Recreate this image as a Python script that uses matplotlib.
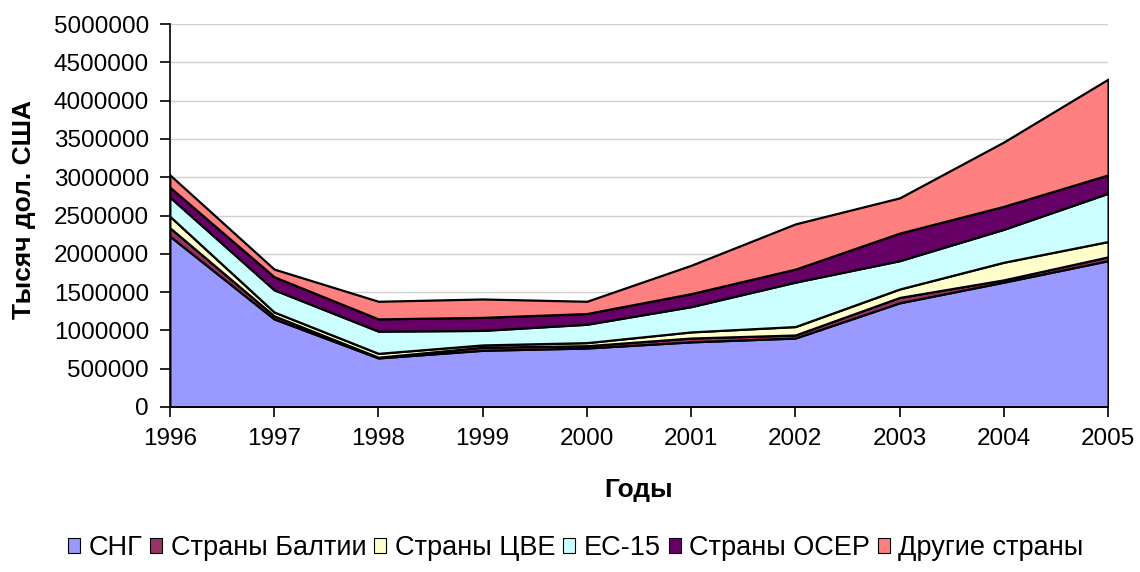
import matplotlib

matplotlib.use("Agg")
import matplotlib.pyplot as plt
from matplotlib.patches import Patch
from matplotlib.ticker import FuncFormatter

plt.rcParams["font.family"] = ["Liberation Sans", "DejaVu Sans"]

YEARS = [1996, 1997, 1998, 1999, 2000, 2001, 2002, 2003, 2004, 2005]
SERIES = ["СНГ", "Страны Балтии", "Страны ЦВЕ", "ЕС-15", "Страны ОСЕР", "Другие страны"]
CIS = [2230000, 1150000, 640000, 740000, 770000, 850000, 900000, 1360000, 1630000, 1910000]
BALTIC = [110000, 40000, 10000, 40000, 30000, 50000, 40000, 70000, 30000, 50000]
CEE = [150000, 50000, 50000, 30000, 40000, 80000, 110000, 110000, 230000, 200000]
EU15 = [250000, 290000, 290000, 190000, 240000, 330000, 580000, 370000, 430000, 630000]
OCEP = [130000, 170000, 160000, 170000, 140000, 170000, 170000, 360000, 300000, 240000]
OTHER = [160000, 100000, 230000, 240000, 160000, 370000, 590000, 460000, 840000, 1250000]

COLORS = ["#9999FF", "#993366", "#FFFFCC", "#CCFFFF", "#660066", "#FF8080"]
FS = 17.5
FS_LABEL = 19
FS_LEGEND = 19.5


def main() -> None:
    fig = plt.figure(figsize=(11.4, 5.72), dpi=100)
    ax = fig.add_axes([0.149, 0.2885, 0.823, 0.6695])

    ax.stackplot(YEARS, CIS, BALTIC, CEE, EU15, OCEP, OTHER,
                 colors=COLORS, edgecolor="black", linewidth=1.6, zorder=2)

    ax.set_xlim(YEARS[0], YEARS[-1])
    ax.set_ylim(0, 5000000)
    ax.set_xticks(YEARS)
    ax.set_yticks(range(0, 5000001, 500000))
    ax.yaxis.set_major_formatter(FuncFormatter(lambda v, _: f"{int(v)}"))
    ax.yaxis.grid(True, color="#d0d0d0", linewidth=1.0, zorder=0)
    ax.set_axisbelow(True)
    for s in ("top", "right"):
        ax.spines[s].set_visible(False)
    for s in ("left", "bottom"):
        ax.spines[s].set_linewidth(1.2)
        ax.spines[s].set_zorder(3)
    ax.tick_params(axis="both", labelsize=FS, length=7, width=1.2, direction="out")
    ax.tick_params(axis="x", pad=8)
    ax.tick_params(axis="y", pad=8)

    fig.text(639 / 1140, 1 - 490 / 572, "Годы", ha="center", va="center",
             fontsize=FS_LABEL, fontweight="bold")
    fig.text(24 / 1140, 1 - 210 / 572, "Тысяч дол. США", rotation=90,
             ha="center", va="center", fontsize=FS_LABEL, fontweight="bold")

    handles = [Patch(facecolor=c, edgecolor="black", linewidth=0.8) for c in COLORS]
    fig.legend(handles, SERIES, loc="center", bbox_to_anchor=(0.505, 0.042),
               ncol=6, frameon=False, fontsize=FS_LEGEND, handlelength=0.45,
               handleheight=0.45, handletextpad=0.3, columnspacing=0.3)

    fig.savefig("out.png", dpi=100, facecolor="white")


if __name__ == "__main__":
    main()
